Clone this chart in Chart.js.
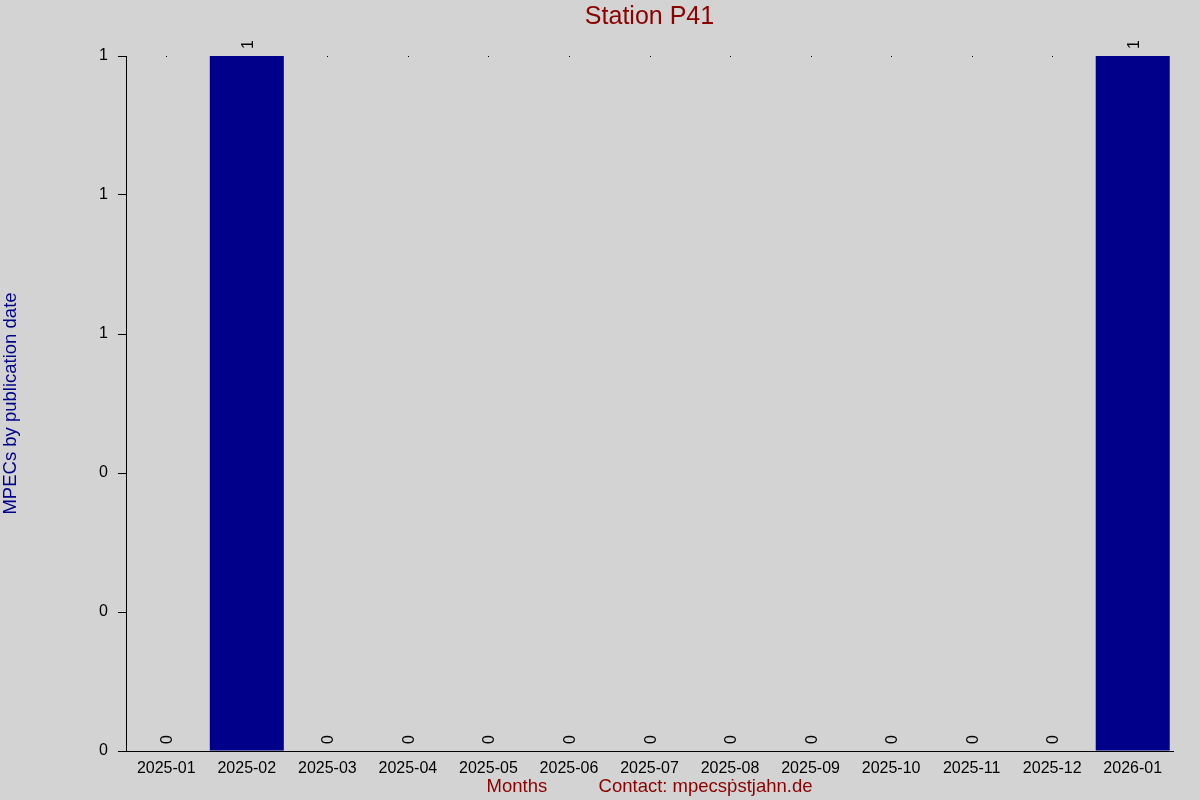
<!DOCTYPE html>
<html>
<head>
<meta charset="utf-8">
<script src="https://cdn.jsdelivr.net/npm/chart.js@4"></script>
<style>
    html, body { margin: 0; padding: 0; background: #d3d3d3; }
    #wrap { width: 1200px; height: 800px; }
</style>
</head>
<body>
<div id="wrap"><canvas id="canvas-barchart" width="1200" height="800"></canvas></div>
<script>
const months = ['2025-01', '2025-02', '2025-03', '2025-04', '2025-05', '2025-06', '2025-07',
    '2025-08', '2025-09', '2025-10', '2025-11', '2025-12', '2026-01'];
const mpecCounts = [0, 1, 0, 0, 0, 0, 0, 0, 0, 0, 0, 0, 1];
const yTicks = [0, 0.2, 0.4, 0.6, 0.8, 1];

const canvas = document.getElementById('canvas-barchart');
var ctx = canvas.getContext('2d');

Chart.defaults.font.family = '"Liberation Sans", Arial, sans-serif';
Chart.defaults.color = '#000';

// rotated value labels above each bar, plus the little dots on the top line
const valueLabels = {
    id: 'valueLabels',
    afterDatasetsDraw(chart) {
        const c = chart.ctx;
        const meta = chart.getDatasetMeta(0);
        const yScale = chart.scales.y;
        const topY = yScale.getPixelForValue(yTicks[yTicks.length - 1]);
        c.save();
        meta.data.forEach((bar, i) => {
            const v = mpecCounts[i];
            if (v < yTicks[yTicks.length - 1]) {
                c.fillStyle = '#000';
                c.fillRect(Math.round(bar.x), topY, 1, 1);
            }
            c.save();
            c.translate(bar.x + 6, bar.y - 7);
            c.rotate(-Math.PI / 2);
            c.font = '16px "Liberation Sans", Arial, sans-serif';
            c.fillStyle = '#000';
            c.textAlign = 'left';
            c.textBaseline = 'alphabetic';
            c.fillText(String(v), 0, 0);
            c.restore();
        });
        c.restore();
    }
};

new Chart(ctx, {
    type: 'bar',
    data: {
        labels: months,
        datasets: [{
            data: mpecCounts,
            backgroundColor: '#00008B',
            borderWidth: 0,
            barPercentage: 0.919,
            categoryPercentage: 1
        }]
    },
    options: {
        responsive: false,
        animation: false,
        devicePixelRatio: 1,
        layout: { padding: { left: 0, right: 27, top: 0, bottom: 0 } },
        plugins: {
            legend: { display: false },
            tooltip: { enabled: false },
            title: {
                display: true,
                fullSize: false,
                text: 'Station P41',
                color: '#8B0000',
                font: { size: 25, weight: 'normal' },
                padding: { top: 2, bottom: 24 }
            }
        },
        scales: {
            x: {
                grid: { display: false },
                border: { display: true, color: '#000', width: 1 },
                ticks: { font: { size: 16 }, color: '#000', padding: 0, maxRotation: 0, autoSkip: false },
                title: {
                    display: true,
                    text: 'Months          Contact: mpecsṗstjahn.de',
                    color: '#8B0000',
                    font: { size: 18.5 },
                    padding: { top: 0, bottom: 2 }
                },
                afterFit(scale) { scale.height = 49; }
            },
            y: {
                min: 0,
                max: 1,
                grid: { drawOnChartArea: false, drawTicks: true, tickLength: 8, tickColor: '#000' },
                border: { display: true, color: '#000', width: 1 },
                afterBuildTicks(scale) { scale.ticks = yTicks.map(v => ({ value: v })); },
                ticks: {
                    font: { size: 16 },
                    color: '#000',
                    padding: 10,
                    callback: (value) => Math.round(value)
                },
                title: {
                    display: true,
                    text: 'MPECs by publication date',
                    color: '#00008B',
                    font: { size: 18.5 },
                    padding: 0
                },
                afterFit(scale) { scale.width = 126; }
            }
        }
    },
    plugins: [valueLabels]
});
</script>
</body>
</html>
